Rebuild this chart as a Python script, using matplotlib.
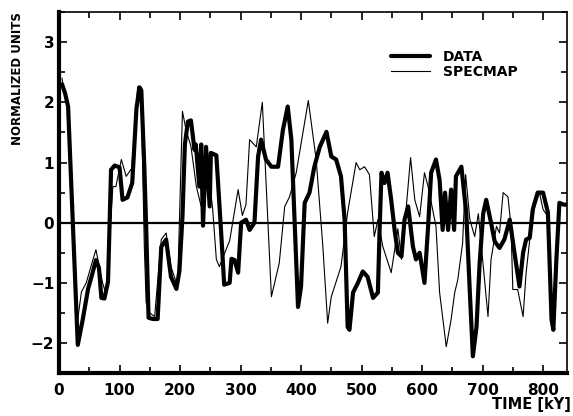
import matplotlib.pyplot as plt
from matplotlib.ticker import MultipleLocator

plt.rcParams['font.family'] = ['DejaVu Sans']
plt.rcParams['font.weight'] = 'bold'

# DATA curve (thick), time in kY and normalized value
data_t = [5, 10, 15, 31, 39, 48, 55, 61, 66, 70, 75, 81, 86, 92, 100, 105, 113, 121,
          128, 133, 136, 141, 144, 148, 155, 163, 166, 169, 177, 185, 194, 199, 204,
          208, 213, 218, 224, 226, 232, 235, 238, 243, 249, 251, 260, 268, 273, 282,
          285, 290, 296, 301, 309, 315, 323, 329, 334, 342, 351, 362, 370, 378, 384,
          389, 395, 400, 406, 414, 422, 431, 442, 450, 458, 466, 472, 477, 480, 486,
          494, 502, 510, 519, 527, 530, 533, 538, 543, 549, 555, 560, 566, 571, 577,
          585, 590, 596, 604, 610, 615, 623, 629, 634, 638, 643, 648, 653, 656, 665,
          673, 679, 684, 690, 695, 701, 706, 714, 720, 728, 736, 745, 752, 761, 767,
          772, 778, 783, 791, 800, 808, 814, 817, 822, 827, 834, 840]
data_v = [2.3, 2.15, 1.93, -2.03, -1.62, -1.1, -0.85, -0.62, -0.75, -1.25, -1.26, -0.98,
          0.88, 0.95, 0.92, 0.38, 0.42, 0.66, 1.9, 2.25, 2.2, 0.93, -0.06, -1.58, -1.6,
          -1.6, -1.0, -0.4, -0.28, -0.9, -1.1, -0.8, 0.1, 1.3, 1.68, 1.7, 1.21, 1.3, 0.6,
          1.3, -0.05, 1.26, 0.27, 1.16, 1.12, -0.17, -1.03, -1.0, -0.6, -0.62, -0.83, 0.0,
          0.05, -0.12, 0.0, 1.1, 1.38, 1.05, 0.93, 0.93, 1.54, 1.93, 1.38, 0.1, -1.4,
          -1.06, 0.33, 0.5, 0.93, 1.26, 1.51, 1.1, 1.05, 0.77, 0.05, -1.73, -1.78, -1.16,
          -1.0, -0.81, -0.9, -1.25, -1.16, -0.06, 0.83, 0.66, 0.83, 0.38, -0.15, -0.5,
          -0.56, 0.05, 0.27, -0.4, -0.61, -0.5, -1.0, -0.06, 0.83, 1.05, 0.71, -0.12, 0.5,
          -0.12, 0.55, -0.12, 0.77, 0.93, 0.17, -1.16, -2.22, -1.73, -0.7, 0.15, 0.38,
          0.0, -0.31, -0.42, -0.28, 0.05, -0.45, -1.06, -0.5, -0.28, -0.25, 0.22, 0.5,
          0.5, 0.17, -1.61, -1.78, -0.61, 0.33, 0.3, 0.3]

# SPECMAP curve (thin)
spec_t = [5, 8, 15, 31, 37, 45, 55, 61, 67, 72, 78, 84, 89, 94, 103, 111, 120, 125, 130,
          136, 141, 144, 150, 158, 169, 177, 185, 196, 204, 210, 218, 227, 235, 243, 254,
          260, 265, 274, 282, 296, 303, 309, 315, 326, 336, 351, 364, 373, 381, 392, 412,
          425, 436, 444, 450, 466, 477, 491, 497, 505, 513, 521, 527, 535, 549, 560, 566,
          574, 581, 588, 596, 604, 610, 623, 629, 640, 648, 654, 659, 667, 672, 679, 687,
          693, 700, 709, 714, 723, 728, 734, 742, 747, 750, 758, 767, 772, 778, 786, 794,
          800, 808, 814, 817, 822, 827, 834]
spec_v = [2.4, 2.2, 1.95, -1.6, -1.15, -1.0, -0.65, -0.45, -0.75, -1.0, -1.2, -0.2, 0.6,
          0.6, 1.05, 0.77, 0.9, 1.5, 2.26, 2.0, -0.4, -1.33, -1.5, -1.56, -0.28, -0.17,
          -0.73, -1.06, 1.85, 1.54, 1.27, 0.6, 0.27, 1.21, 0.22, -0.61, -0.73, -0.5, -0.3,
          0.55, 0.12, 0.3, 1.38, 1.26, 2.0, -1.23, -0.67, 0.27, 0.43, 0.83, 2.03, 1.05,
          -0.39, -1.67, -1.23, -0.73, 0.17, 1.0, 0.88, 0.93, 0.8, -0.23, 0.05, -0.39,
          -0.83, -0.1, -0.61, 0.27, 1.08, 0.38, 0.1, 0.83, 0.6, -0.06, -1.16, -2.06, -1.61,
          -1.16, -0.95, -0.34, 0.8, 0.05, -0.23, 0.15, -0.6, -1.56, -0.61, -0.06, -0.17,
          0.5, 0.43, -0.06, -1.11, -1.11, -1.56, -0.83, -0.28, 0.27, 0.5, 0.22, 0.1,
          -1.55, -1.7, -0.6, 0.33, 0.3]

fig = plt.figure(figsize=(5.73, 4.16), dpi=100)
ax = fig.add_axes([0.103, 0.103, 0.887, 0.868])

ax.axhline(0, color='black', lw=1.6, zorder=1)
ax.plot(data_t, data_v, color='black', lw=3.0, label='DATA', zorder=3,
        solid_joinstyle='round', solid_capstyle='round')
ax.plot(spec_t, spec_v, color='black', lw=0.8, label='SPECMAP', zorder=2,
        solid_joinstyle='round')

ax.set_xlim(0, 840)
ax.set_ylim(-2.5, 3.5)
ax.xaxis.set_major_locator(MultipleLocator(100))
ax.xaxis.set_minor_locator(MultipleLocator(50))
ax.yaxis.set_major_locator(MultipleLocator(1))
ax.yaxis.set_minor_locator(MultipleLocator(0.5))
ax.tick_params(which='both', direction='in', top=True, right=True, labelsize=11,
               width=1.2)
ax.tick_params(which='major', length=6)
ax.tick_params(which='minor', length=4)
ax.tick_params(axis='x', pad=7)
ax.set_yticks([-2, -1, 0, 1, 2, 3])
ax.set_yticklabels(['\u22122', '\u22121', '0', '1', '2', '3'])

ax.spines['left'].set_linewidth(3)
ax.spines['bottom'].set_linewidth(3)
ax.spines['top'].set_linewidth(1.2)
ax.spines['right'].set_linewidth(1.2)

ax.text(-0.081, 1.0, 'NORMALIZED UNITS', transform=ax.transAxes, rotation=90,
        ha='center', va='top', fontsize=8.5)
fig.text(0.997, 0.01, 'TIME [kY]', ha='right', va='bottom', fontsize=10.5)

ax.legend(loc='upper left', bbox_to_anchor=(0.64, 0.915), frameon=False,
          handlelength=2.8, handletextpad=0.9, borderpad=0, labelspacing=0.1,
          fontsize=10)

fig.savefig('out.png', dpi=100)
